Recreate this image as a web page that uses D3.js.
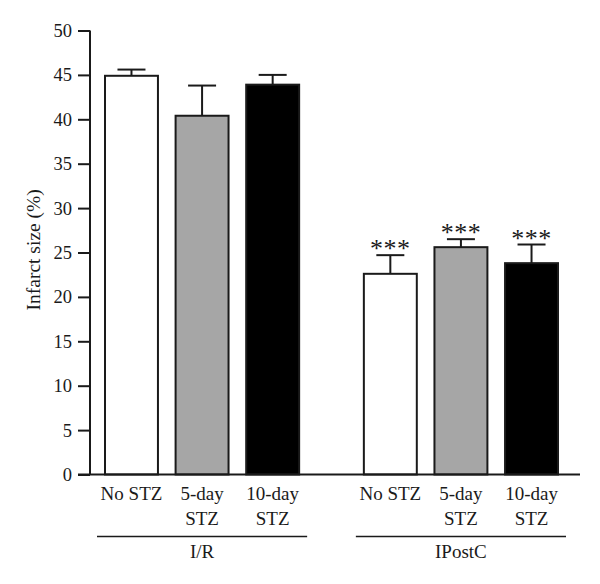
<!DOCTYPE html>
<html>
<head>
<meta charset="utf-8">
<script src="https://cdn.jsdelivr.net/npm/d3@7"></script>
<style>
  body { margin: 0; background: #fff; }
  text { font-family: "Liberation Serif", "DejaVu Serif", serif; fill: #1a1a1a; }
</style>
</head>
<body>
<svg id="chart" width="600" height="584"></svg>
<script>
// data
var groups = ['I/R', 'IPostC'];
var conditions = ['No STZ', '5-day STZ', '10-day STZ'];
var condLines = [['No STZ'], ['5-day', 'STZ'], ['10-day', 'STZ']];
var means = [[44.9, 40.4, 43.9], [22.6, 25.6, 23.8]];
var errs  = [[0.7, 3.4, 1.1], [2.1, 0.9, 2.1]];
var stars = [['', '', ''], ['***', '***', '***']];
var yTicks = [0, 5, 10, 15, 20, 25, 30, 35, 40, 45, 50];
var fills = ['#ffffff', '#a6a6a6', '#000000'];

var svg = d3.select('#chart');

var y = d3.scaleLinear().domain([0, 50]).range([474.5, 30.5]);

var x0 = d3.scaleBand().domain(groups).range([105, 558]).paddingInner(0.25);
var x1 = d3.scaleBand().domain(conditions).range([0, x0.bandwidth()]).paddingInner(0.25);

var color = d3.scaleOrdinal().domain(conditions).range(fills);

// flatten
var rows = [];
groups.forEach(function(g, gi) {
  conditions.forEach(function(c, ci) {
    rows.push({group: g, cond: c, mean: means[gi][ci], err: errs[gi][ci], star: stars[gi][ci], ci: ci});
  });
});

// y axis
var yAxis = d3.axisLeft(y).tickValues(yTicks).tickSize(12).tickPadding(6);
var ya = svg.append('g')
  .attr('transform', 'translate(90,0)')
  .call(yAxis);
ya.select('.domain').attr('stroke', '#1a1a1a').attr('stroke-width', 2).attr('d', 'M0,' + y(0) + 'V' + y(50));
ya.selectAll('.tick line').attr('stroke', '#1a1a1a').attr('stroke-width', 2);
ya.selectAll('.tick text').style('font-size', '18.5px').style('font-family', '"Liberation Serif", serif').attr('fill', '#1a1a1a');

svg.append('text')
  .attr('transform', 'translate(40,' + y(25.3) + ') rotate(-90)')
  .attr('text-anchor', 'middle')
  .style('font-size', '19.5px')
  .text('Infarct size (%)');

// bars
var barG = svg.append('g');
var bar = barG.selectAll('g.bar')
  .data(rows)
  .enter().append('g')
  .attr('class', 'bar')
  .attr('transform', function(d) { return 'translate(' + (x0(d.group) + x1(d.cond)) + ',0)'; });

var bw = x1.bandwidth();

// error bars (upper only)
bar.append('line')
  .attr('x1', bw / 2).attr('x2', bw / 2)
  .attr('y1', function(d) { return y(d.mean); })
  .attr('y2', function(d) { return y(d.mean + d.err); })
  .attr('stroke', '#1a1a1a').attr('stroke-width', 2);
bar.append('line')
  .attr('x1', bw / 2 - 14).attr('x2', bw / 2 + 14)
  .attr('y1', function(d) { return y(d.mean + d.err); })
  .attr('y2', function(d) { return y(d.mean + d.err); })
  .attr('stroke', '#1a1a1a').attr('stroke-width', 2);

bar.append('rect')
  .attr('x', 0)
  .attr('width', bw)
  .attr('y', function(d) { return y(d.mean); })
  .attr('height', function(d) { return y(0) - y(d.mean); })
  .attr('fill', function(d) { return color(d.cond); })
  .attr('stroke', '#1a1a1a')
  .attr('stroke-width', 2);

bar.append('text')
  .attr('x', bw / 2)
  .attr('y', function(d) { return y(d.mean + d.err) + 2; })
  .attr('text-anchor', 'middle')
  .style('font-size', '26px')
  .style('letter-spacing', '0.5px')
  .text(function(d) { return d.star; });

// baseline
svg.append('line')
  .attr('x1', 78).attr('x2', 580)
  .attr('y1', y(0)).attr('y2', y(0))
  .attr('stroke', '#1a1a1a').attr('stroke-width', 2);

// category labels
bar.each(function(d) {
  var t = d3.select(this).append('text')
    .attr('text-anchor', 'middle')
    .style('font-size', '19px');
  condLines[d.ci].forEach(function(s, i) {
    t.append('tspan').attr('x', bw / 2).attr('y', 500 + i * 25).text(s);
  });
});

// group brackets
var grp = svg.selectAll('g.grp')
  .data(groups)
  .enter().append('g')
  .attr('class', 'grp');
grp.append('line')
  .attr('x1', function(g) { return x0(g) - 8; })
  .attr('x2', function(g) { return x0(g) + x0.bandwidth() + 8; })
  .attr('y1', 536.5).attr('y2', 536.5)
  .attr('stroke', '#1a1a1a').attr('stroke-width', 1.5);
grp.append('text')
  .attr('x', function(g) { return x0(g) + x0.bandwidth() / 2; })
  .attr('y', 558)
  .attr('text-anchor', 'middle')
  .style('font-size', '19px')
  .text(function(g) { return g; });
</script>
</body>
</html>
